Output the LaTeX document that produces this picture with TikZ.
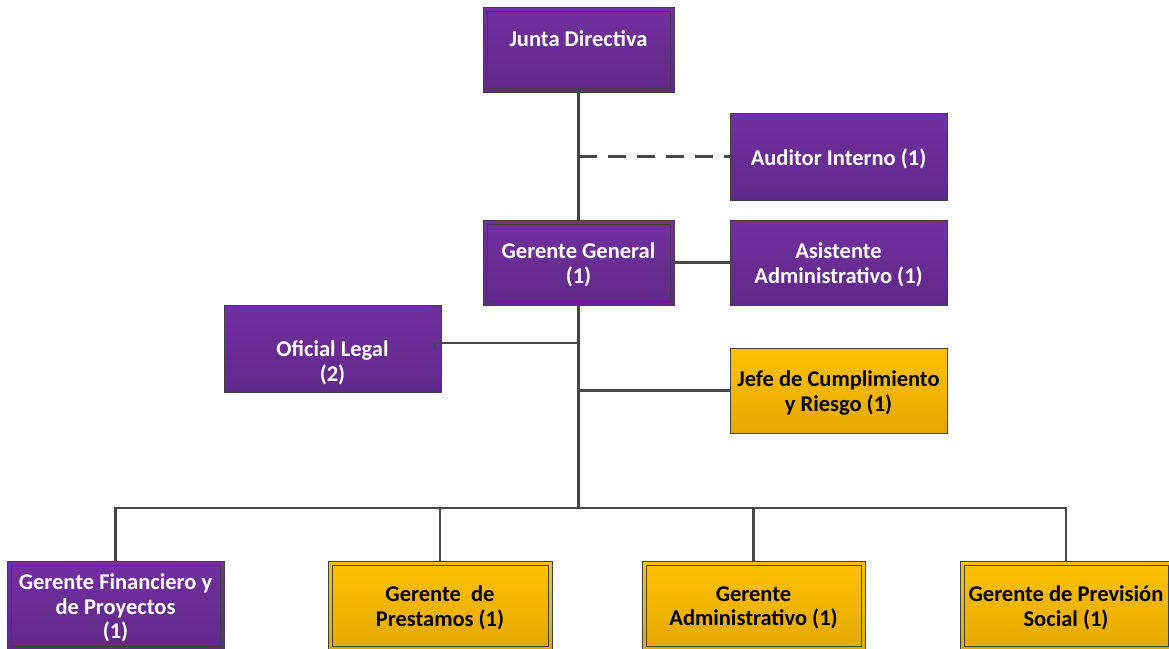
\documentclass[tikz,border=0pt]{standalone}
\usepackage{fontspec}
\setmainfont{Carlito}
\definecolor{purpleTop}{RGB}{114,48,160}
\definecolor{purpleBot}{RGB}{96,40,136}
\definecolor{goldTop}{RGB}{255,194,0}
\definecolor{goldBot}{RGB}{228,168,0}
\definecolor{edge}{RGB}{64,64,64}
\definecolor{wire}{RGB}{70,70,70}
\begin{document}
\begin{tikzpicture}[x=1pt,y=-1pt,
  box/.style={rectangle, draw=edge, line width=0.9pt, inner sep=0pt},
  pbox/.style={box, top color=purpleTop, bottom color=purpleBot},
  ybox/.style={box, top color=goldTop, bottom color=goldBot},
  txt/.style={font=\fontsize{22.5}{24.5}\selectfont\bfseries, align=center, yshift=-2.5pt},
  wtxt/.style={txt, text=white},
  btxt/.style={txt, text=black},
  link/.style={draw=wire, line width=2.2pt},
  dlink/.style={link, dash pattern=on 18pt off 11pt},
  inner/.style={draw=edge, line width=0.8pt}
]
\useasboundingbox (0,0) rectangle (1169,648);
\clip (0,0) rectangle (1169,648);

% boxes
\node[pbox, minimum width=191pt, minimum height=85pt] (jd) at (578.5,49.5) {};
\node[pbox, minimum width=217pt, minimum height=87pt] (ai) at (838.5,156.5) {};
\node[pbox, minimum width=191pt, minimum height=85pt] (gg) at (578.5,262.5) {};
\node[pbox, minimum width=217pt, minimum height=85pt] (aa) at (838.5,262.5) {};
\node[pbox, minimum width=217pt, minimum height=87pt] (ol) at (332.5,348.5) {};
\node[ybox, minimum width=217pt, minimum height=85pt] (jc) at (838.5,390.5) {};
\node[pbox, minimum width=217pt, minimum height=89pt] (gf) at (115.5,605.5) {};
\node[ybox, minimum width=224pt, minimum height=89pt] (gp) at (440,605.5) {};
\node[ybox, minimum width=223pt, minimum height=89pt] (ga) at (753.5,605.5) {};
\node[ybox, minimum width=212pt, minimum height=89pt] (gs) at (1066,605.5) {};

% inner frames
\foreach \b in {jd,gg,gf,gp,ga,gs}
  \draw[inner] ([xshift=4.5pt,yshift=-4.5pt]\b.north west) rectangle ([xshift=-4.5pt,yshift=4.5pt]\b.south east);

% labels
\node[wtxt] (jd-t) at ([yshift=13.5pt]jd.center) {Junta Directiva};
\node[wtxt] (ai-t) at (ai.center) {Auditor Interno (1)};
\node[wtxt] (gg-t) at (gg.center) {Gerente General\\(1)};
\node[wtxt] (aa-t) at (aa.center) {Asistente\\Administrativo (1)};
\node[wtxt] (ol-t) at ([yshift=-12pt]ol.center) {Oficial Legal\\(2)};
\node[btxt] (jc-t) at (jc.center) {Jefe de Cumplimiento\\y Riesgo (1)};
\node[wtxt] (gf-t) at (gf.center) {Gerente Financiero y\\de Proyectos\\(1)};
\node[btxt] (gp-t) at (gp.center) {Gerente\ \ de\\Prestamos (1)};
\node[btxt] (ga-t) at (ga.center) {Gerente\\Administrativo (1)};
\node[btxt] (gs-t) at (gs.center) {Gerente de Previsión\\Social (1)};

% junctions
\coordinate (bus) at (578.5,508);
\coordinate (olj) at (578.5,343);

% connectors
\draw[link] (jd.south) -- (gg.north);
\draw[dlink] (ai.west -| jd.south) -- (ai.west);
\draw[link] (gg.east) -- (aa.west);
\draw[link] (gg.south) -- (bus);
\draw[link] ([xshift=-7pt,yshift=-1.5pt]ol.east) |- (olj);
\draw[link] (jc.west -| gg.south) -- (jc.west);
\draw[link] (gf.north) |- (bus) -| (gs.north);
\draw[link] (gp.north) -- (gp.north |- bus);
\draw[link] (ga.north) -- (ga.north |- bus);
\end{tikzpicture}
\end{document}
